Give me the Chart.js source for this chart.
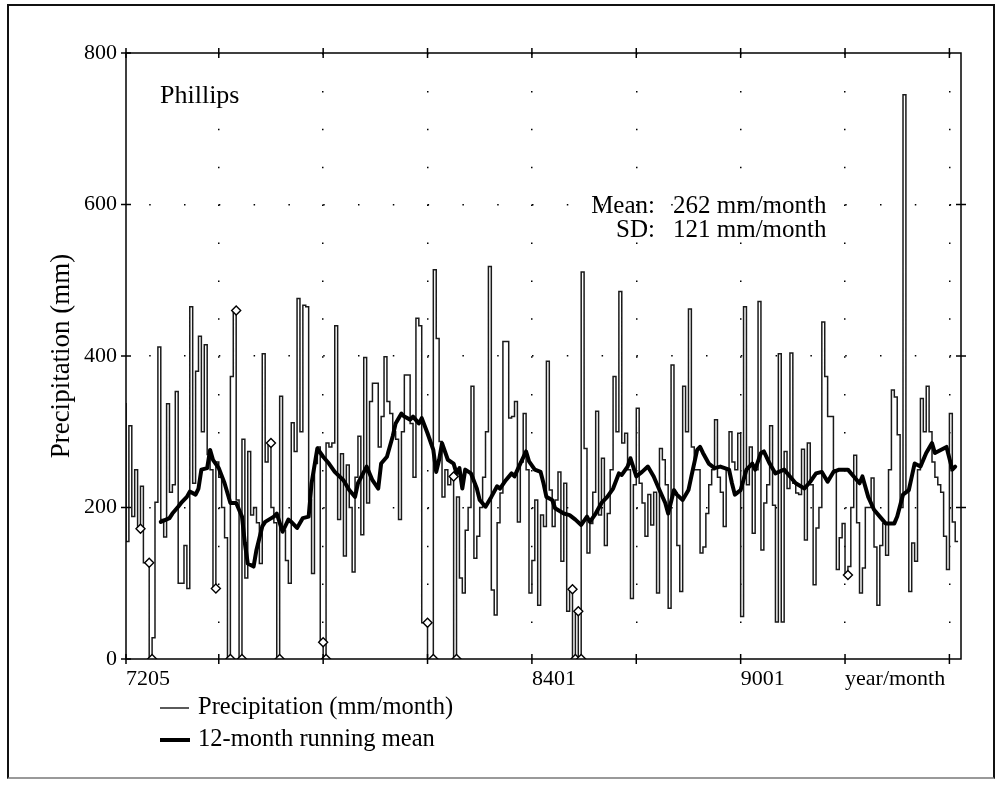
<!DOCTYPE html>
<html><head><meta charset="utf-8">
<script src="https://cdn.jsdelivr.net/npm/chart.js@4.4.0/dist/chart.umd.min.js"></script>
<style>
html,body{margin:0;padding:0;background:#fff;}
#wrap{position:absolute;left:0;top:0;width:999px;height:786px;}
#frame{position:absolute;left:7px;top:4px;width:988px;height:775px;border:2px solid #111;border-bottom-color:#999;box-sizing:border-box;pointer-events:none;}
</style></head><body>
<div id="wrap"><canvas id="c"></canvas></div>
<div id="frame"></div>
<script>
// ---- data (month index 0 = 1972/05) ----
const stationName = 'Phillips';
const meanValue = 262;
const sdValue = 121;
const tickMonths = [0, 32, 68, 104, 140, 176, 212, 248, 284];
const tickLabels = ['7205', '', '', '', '8401', '', '9001', 'year/month', ''];
const yTicks = [0, 200, 400, 600, 800];

const precip = [
  338,155,308,188,250,172,228,127,127,0,28,207,
  412,184,161,337,220,230,353,100,100,150,93,465,
  232,380,426,300,415,270,250,93,260,240,200,160,
  0,373,460,210,0,290,107,274,190,200,180,126,
  403,260,285,200,180,0,347,170,130,100,312,274,
  476,300,467,465,210,113,258,280,22,0,285,280,
  285,440,184,271,136,256,200,115,240,294,164,398,
  206,340,364,364,280,320,399,340,324,300,290,184,
  300,375,375,311,240,450,440,48,48,0,0,514,
  423,287,214,250,230,241,0,214,107,87,170,200,
  360,133,162,200,240,300,518,91,58,180,219,419,
  419,318,320,340,181,260,324,250,87,130,210,71,
  190,175,393,223,175,210,247,129,232,63,92,0,
  63,0,511,278,140,179,220,327,190,265,150,192,
  250,373,300,485,285,298,250,80,230,331,232,206,
  162,217,177,220,87,278,263,230,67,388,219,150,
  89,360,300,462,280,250,250,140,148,192,230,250,
  316,240,220,175,250,300,260,250,298,56,465,230,
  280,166,250,472,144,206,230,308,203,49,403,49,
  274,225,404,232,219,217,277,157,285,230,98,173,
  200,445,373,320,320,250,118,160,179,111,122,200,
  269,180,87,120,200,200,239,148,71,150,179,137,
  250,355,346,296,200,745,221,89,153,129,250,344,
  300,360,300,260,240,230,220,162,118,324,181,155
];

const flagMonths = [5,8,9,31,36,38,40,50,53,68,69,104,106,113,114,154,155,156,157,249];

const meanMonth = [12,15,16,18,19,21,22,24,25,26,28,29,30,32,34,36,38,40,41,42,44,45,47,48,51,52,54,56,57,59,61,63,64,66,68,70,
  72,75,77,79,80,83,85,87,88,90,92,93,95,96,98,99,101,102,104,106,107,108,109,111,113,114,115,116,117,119,121,122,124,126,128,129,131,133,134,136,138,139,141,143,
  144,145,147,148,151,153,155,157,159,160,162,164,166,168,170,171,173,174,176,178,180,182,184,186,187,189,190,192,194,195,197,198,199,201,203,205,208,209,210,212,214,216,
  217,219,220,222,224,227,229,231,234,236,238,240,242,244,246,249,251,253,254,256,258,260,262,265,266,268,270,272,274,276,278,279,281,283,285,286];
const meanVals = [181,186,192,201,206,214,221,217,225,250,252,276,263,252,232,206,206,188,153,126,122,144,175,181,188,192,168,184,181,173,186,188,232,278,267,258,
  247,236,223,214,232,254,236,225,258,267,294,311,324,320,316,320,311,318,298,276,247,263,285,263,258,245,252,225,250,245,225,210,201,214,228,225,236,245,241,258,274,261,250,247,
  232,214,210,199,192,190,184,177,188,181,192,206,214,225,245,243,254,265,241,247,254,241,223,206,192,223,217,210,223,241,276,280,272,258,252,254,250,232,217,223,250,258,
  250,272,274,258,245,250,241,232,225,234,245,247,234,247,250,250,241,232,241,214,197,188,179,179,188,217,223,258,254,272,285,272,276,280,250,254];

const FONT = '"Liberation Serif", "Times New Roman", serif';

const decor = {
  id: 'decor',
  afterDraw(chart) {
    const {ctx, chartArea: a, scales: {x, y}} = chart;
    const line = (x1, y1, x2, y2) => { ctx.beginPath(); ctx.moveTo(x1, y1); ctx.lineTo(x2, y2); ctx.stroke(); };
    ctx.save();
    ctx.strokeStyle = '#000';
    ctx.lineWidth = 1.5;
    ctx.strokeRect(a.left, a.top, a.right - a.left, a.bottom - a.top);
    tickMonths.forEach(m => {
      const px = x.getPixelForValue(m);
      line(px, a.bottom - 5, px, a.bottom + 5);
      line(px, a.top - 5, px, a.top + 5);
    });
    yTicks.forEach(v => {
      const py = y.getPixelForValue(v);
      line(a.left - 5, py, a.left + 5, py);
      if (v > 0 && v < 800) line(a.right - 5, py, a.right + 5, py);
    });
    ctx.fillStyle = '#000';
    ctx.textBaseline = 'middle';
    ctx.font = '26px ' + FONT;
    ctx.textAlign = 'left';
    ctx.fillText(stationName, 160, 96);
    ctx.font = '25px ' + FONT;
    ctx.textAlign = 'right';
    ctx.fillText('Mean:', 655, 206);
    ctx.fillText('SD:', 655, 230);
    ctx.textAlign = 'left';
    ctx.fillText(meanValue + ' mm/month', 673, 206);
    ctx.fillText(sdValue + ' mm/month', 673, 230);
    // legend
    const ds = chart.data.datasets;
    ctx.font = '24.5px ' + FONT;
    ctx.lineWidth = 1.3;
    line(160, 708, 189, 708);
    ctx.fillText(ds[0].label, 198, 708);
    ctx.lineWidth = ds[1].borderWidth;
    line(160, 740, 190, 740);
    ctx.fillText(ds[1].label, 198, 740);
    ctx.restore();
  }
};

new Chart(document.getElementById('c'), {
  type: 'line',
  data: {
    datasets: [
      {label: 'Precipitation (mm/month)', data: precip.map((v, i) => ({x: i, y: v})), stepped: 'after',
       borderColor: '#1a1a1a', borderWidth: 1.5, pointRadius: 0, fill: false, order: 3},
      {label: '12-month running mean', data: meanMonth.map((m, i) => ({x: m, y: meanVals[i]})),
       borderColor: '#000', borderWidth: 4, pointRadius: 0, tension: 0, fill: false, order: 2,
       borderJoinStyle: 'round', borderCapStyle: 'round'},
      {label: 'flagged months', data: flagMonths.map(m => ({x: m, y: precip[m]})), showLine: false,
       pointStyle: 'rectRot', pointRadius: 4.5, pointBorderWidth: 1.4, pointBorderColor: '#000',
       pointBackgroundColor: '#fff', order: 1}
    ]
  },
  options: {
    responsive: true, maintainAspectRatio: false, animation: false,
    layout: {padding: {left: 42, right: 38, top: 53, bottom: 87}},
    plugins: {legend: {display: false}, tooltip: {enabled: false}},
    scales: {
      x: {
        type: 'linear', min: 0, max: 288,
        afterBuildTicks: s => { s.ticks = tickMonths.map(v => ({value: v})); },
        afterFit: s => { s.height = 40; },
        ticks: {autoSkip: false, maxRotation: 0, minRotation: 0, align: 'start', padding: 7, color: '#000',
                font: {family: FONT, size: 22},
                callback: v => { const i = tickMonths.indexOf(v); return i >= 0 ? tickLabels[i] : ''; }},
        grid: {drawTicks: false, lineWidth: 1.5,
               color: c => (c.tick && c.tick.value > 0 && c.tick.value < 288) ? '#000' : 'rgba(0,0,0,0)'},
        border: {display: false, dash: [1.5, 36.4], dashOffset: 0}
      },
      y: {
        min: 0, max: 800,
        afterBuildTicks: s => { s.ticks = yTicks.map(v => ({value: v})); },
        afterFit: s => { s.width = 84; },
        ticks: {padding: 9, color: '#000', font: {family: FONT, size: 22}},
        title: {display: true, text: 'Precipitation (mm)', color: '#000', font: {family: FONT, size: 27},
                padding: {top: 4, bottom: 0}},
        grid: {drawTicks: false, lineWidth: 1.5,
               color: c => (c.tick && c.tick.value > 0 && c.tick.value < 800) ? '#000' : 'rgba(0,0,0,0)'},
        border: {display: false, dash: [1.5, 33.3], dashOffset: 11.6}
      }
    }
  },
  plugins: [decor]
});
</script>
</body></html>
